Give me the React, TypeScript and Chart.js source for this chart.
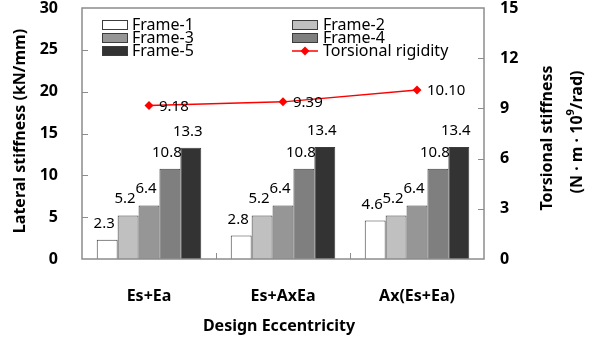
import React, { useEffect, useRef } from "react";
import { Chart, registerables } from "chart.js";

Chart.register(...registerables);

// Design eccentricity cases
const categories = ["Es+Ea", "Es+AxEa", "Ax(Es+Ea)"];

// Lateral stiffness (kN/mm) per frame
const frame1 = [2.3, 2.8, 4.6];
const frame2 = [5.2, 5.2, 5.2];
const frame3 = [6.4, 6.4, 6.4];
const frame4 = [10.8, 10.8, 10.8];
const frame5 = [13.3, 13.4, 13.4];

// Torsional rigidity (N·m·10^9/rad)
const torsional = [9.18, 9.39, 10.1];

const frameNames = ["Frame-1", "Frame-2", "Frame-3", "Frame-4", "Frame-5"];
const frameColors = ["#ffffff", "#c0c0c0", "#969696", "#7f7f7f", "#333333"];
const lineName = "Torsional rigidity";

const leftTicks = { min: 0, max: 30, step: 5 };
const rightTicks = { min: 0, max: 15, step: 3 };

const FONT = '"Noto Sans", "DejaVu Sans", sans-serif';
const TEXT = "#000000";
const AXIS_COLOR = "#8c8c8c";
const BAR_BORDER = "#3c3c3c";
const RED = "#ff0000";

function drawDiamond(ctx: CanvasRenderingContext2D, x: number, y: number, r: number) {
  ctx.beginPath();
  ctx.moveTo(x, y - r);
  ctx.lineTo(x + r, y);
  ctx.lineTo(x, y + r);
  ctx.lineTo(x - r, y);
  ctx.closePath();
  ctx.fill();
}

const decorations = {
  id: "decorations",
  afterDatasetsDraw(chart: any) {
    const ctx: CanvasRenderingContext2D = chart.ctx;
    ctx.save();
    ctx.fillStyle = TEXT;
    ctx.font = `15px ${FONT}`;
    chart.data.datasets.forEach((ds: any, i: number) => {
      const meta = chart.getDatasetMeta(i);
      meta.data.forEach((el: any, j: number) => {
        const v = ds.data[j] as number;
        if (ds.type === "line") {
          ctx.textAlign = "left";
          ctx.textBaseline = "middle";
          ctx.fillText(v.toFixed(2), el.x + 10, el.y + 1);
        } else {
          ctx.textAlign = "center";
          ctx.textBaseline = "alphabetic";
          ctx.fillText(v.toFixed(1), el.x - 3, el.y - 12);
        }
      });
    });
    ctx.restore();
  },
  afterDraw(chart: any) {
    const ctx: CanvasRenderingContext2D = chart.ctx;
    const { left, right, top, bottom } = chart.chartArea;
    const yL = chart.scales.y;
    const yR = chart.scales.y1;
    const xS = chart.scales.x;
    ctx.save();

    // plot frame
    ctx.strokeStyle = AXIS_COLOR;
    ctx.lineWidth = 1.5;
    ctx.strokeRect(left, top, right - left, bottom - top);

    // inner tick marks
    ctx.lineWidth = 1;
    ctx.beginPath();
    for (let v = leftTicks.min + leftTicks.step; v < leftTicks.max; v += leftTicks.step) {
      const py = Math.round(yL.getPixelForValue(v)) + 0.5;
      ctx.moveTo(left, py);
      ctx.lineTo(left + 6, py);
    }
    for (let v = rightTicks.min + rightTicks.step; v < rightTicks.max; v += rightTicks.step) {
      const py = Math.round(yR.getPixelForValue(v)) + 0.5;
      ctx.moveTo(right - 6, py);
      ctx.lineTo(right, py);
    }
    for (let k = 1; k < categories.length; k++) {
      const px =
        Math.round((xS.getPixelForValue(k - 1) + xS.getPixelForValue(k)) / 2) + 0.5;
      ctx.moveTo(px, bottom);
      ctx.lineTo(px, bottom - 6);
    }
    ctx.stroke();

    // axis titles
    ctx.fillStyle = TEXT;
    ctx.font = `bold 16px ${FONT}`;
    ctx.textAlign = "center";
    ctx.textBaseline = "middle";
    ctx.fillText("Design Eccentricity", (left + right) / 2 - 4, 326);

    ctx.save();
    ctx.translate(20, 131);
    ctx.rotate(-Math.PI / 2);
    ctx.fillText("Lateral stiffness (kN/mm)", 0, 0);
    ctx.restore();

    ctx.save();
    ctx.translate(547, 138);
    ctx.rotate(-Math.PI / 2);
    ctx.fillText("Torsional stiffness", 0, 0);
    ctx.restore();

    // second line with superscript exponent
    ctx.save();
    ctx.translate(577, 132);
    ctx.rotate(-Math.PI / 2);
    const partA = "(N \u00b7 m \u00b7 10";
    const partB = "9";
    const partC = "/rad)";
    const supFont = `bold 11px ${FONT}`;
    const mainFont = `bold 16px ${FONT}`;
    ctx.font = mainFont;
    const wA = ctx.measureText(partA).width;
    const wC = ctx.measureText(partC).width;
    ctx.font = supFont;
    const wB = ctx.measureText(partB).width;
    let cx = -(wA + wB + wC) / 2;
    ctx.textAlign = "left";
    ctx.font = mainFont;
    ctx.fillText(partA, cx, 0);
    cx += wA;
    ctx.font = supFont;
    ctx.fillText(partB, cx, -6);
    cx += wB;
    ctx.font = mainFont;
    ctx.fillText(partC, cx, 0);
    ctx.restore();

    // legend
    const rowsY = [25, 38, 51];
    const cols = [
      { box: 102, text: 132 },
      { box: 292, text: 323 },
    ];
    const items = [
      ...frameNames.map((n, i) => ({ name: n, kind: "bar", color: frameColors[i] })),
      { name: lineName, kind: "line", color: RED },
    ];
    ctx.font = `16px ${FONT}`;
    ctx.textAlign = "left";
    ctx.textBaseline = "middle";
    items.forEach((it, i) => {
      const col = cols[i % 2];
      const cy = rowsY[Math.floor(i / 2)];
      if (it.kind === "bar") {
        ctx.fillStyle = it.color;
        ctx.fillRect(col.box, cy - 4.5, 25, 9);
        ctx.strokeStyle = BAR_BORDER;
        ctx.lineWidth = 1;
        ctx.strokeRect(col.box + 0.5, cy - 4.5, 25, 9);
      } else {
        ctx.strokeStyle = RED;
        ctx.lineWidth = 1.5;
        ctx.beginPath();
        ctx.moveTo(col.box, cy);
        ctx.lineTo(col.box + 26, cy);
        ctx.stroke();
        ctx.fillStyle = RED;
        drawDiamond(ctx, col.box + 13, cy, 4.5);
      }
      ctx.fillStyle = TEXT;
      ctx.fillText(it.name, col.text, cy);
    });

    ctx.restore();
  },
};

export default function App() {
  const canvasRef = useRef<HTMLCanvasElement | null>(null);

  useEffect(() => {
    if (!canvasRef.current) return;
    const frameData = [frame1, frame2, frame3, frame4, frame5];
    const chart = new Chart(canvasRef.current, {
      type: "bar",
      data: {
        labels: categories,
        datasets: [
          {
            type: "line",
            label: lineName,
            data: torsional,
            yAxisID: "y1",
            borderColor: RED,
            backgroundColor: RED,
            borderWidth: 1.5,
            pointStyle: "rectRot",
            pointRadius: 4.5,
            pointBorderWidth: 0,
            order: 0,
          } as any,
          ...frameData.map((d, i) => ({
            type: "bar",
            label: frameNames[i],
            data: d,
            yAxisID: "y",
            backgroundColor: frameColors[i],
            borderColor: BAR_BORDER,
            borderWidth: 1,
            categoryPercentage: 0.78,
            barPercentage: 1.0,
            order: 1,
          })),
        ],
      },
      options: {
        animation: false,
        responsive: false,
        devicePixelRatio: 1,
        layout: { padding: { top: 8, left: 0, right: 0, bottom: 0 } },
        plugins: {
          legend: { display: false },
          tooltip: { enabled: false },
        },
        scales: {
          x: {
            grid: { display: false, drawTicks: false },
            border: { display: false },
            ticks: {
              color: TEXT,
              font: { family: FONT, size: 16, weight: "bold" },
              padding: 28,
            },
            afterFit(scale: any) {
              scale.height = 85;
              scale.paddingLeft = 0;
              scale.paddingRight = 0;
            },
          },
          y: {
            position: "left",
            min: leftTicks.min,
            max: leftTicks.max,
            grid: { display: false, drawTicks: false },
            border: { display: false },
            ticks: {
              stepSize: leftTicks.step,
              color: TEXT,
              font: { family: FONT, size: 16, weight: "bold" },
              padding: 24,
            },
            afterFit(scale: any) {
              scale.width = 82;
              scale.paddingTop = 0;
              scale.paddingBottom = 0;
            },
          },
          y1: {
            position: "right",
            min: rightTicks.min,
            max: rightTicks.max,
            grid: { display: false, drawTicks: false },
            border: { display: false },
            ticks: {
              stepSize: rightTicks.step,
              color: TEXT,
              font: { family: FONT, size: 16, weight: "bold" },
              padding: 16,
            },
            afterFit(scale: any) {
              scale.width = 112;
              scale.paddingTop = 0;
              scale.paddingBottom = 0;
            },
          },
        },
      },
      plugins: [decorations],
    } as any);
    return () => chart.destroy();
  }, []);

  return (
    <div
      style={{
        position: "absolute",
        left: 0,
        top: 0,
        width: 596,
        height: 344,
        background: "#ffffff",
      }}
    >
      <canvas ref={canvasRef} width={596} height={344} />
    </div>
  );
}
